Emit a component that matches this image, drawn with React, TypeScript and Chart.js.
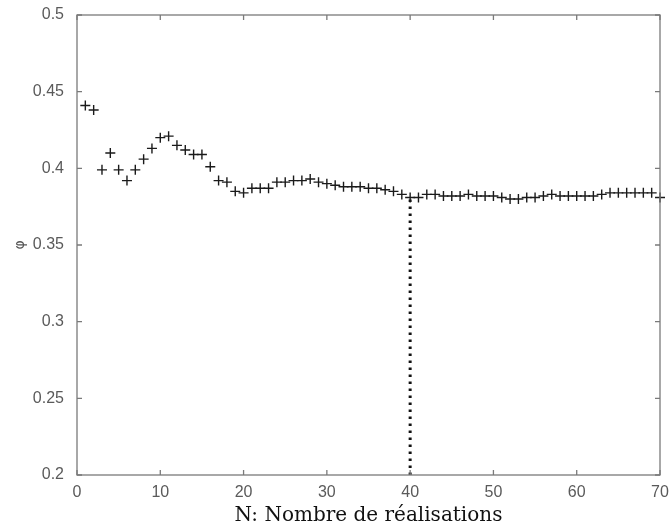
import React, { useEffect, useRef } from "react";
import { Chart, registerables } from "chart.js";

Chart.register(...registerables);

const realisations: number[] = Array.from({ length: 70 }, (_, i) => i + 1);
const phiValues: number[] = [
  0.441, 0.438, 0.399, 0.410, 0.399, 0.392, 0.399, 0.406, 0.413, 0.420,
  0.421, 0.415, 0.412, 0.409, 0.409, 0.401, 0.392, 0.391, 0.385, 0.384,
  0.387, 0.387, 0.387, 0.391, 0.391, 0.392, 0.392, 0.393, 0.391, 0.390,
  0.389, 0.388, 0.388, 0.388, 0.387, 0.387, 0.386, 0.385, 0.383, 0.381,
  0.381, 0.383, 0.383, 0.382, 0.382, 0.382, 0.383, 0.382, 0.382, 0.382,
  0.381, 0.380, 0.380, 0.381, 0.381, 0.382, 0.383, 0.382, 0.382, 0.382,
  0.382, 0.382, 0.383, 0.384, 0.384, 0.384, 0.384, 0.384, 0.384, 0.381,
];
const markedN = 40;
const xTicks: number[] = [0, 10, 20, 30, 40, 50, 60, 70];
const yTicks: number[] = [0.2, 0.25, 0.3, 0.35, 0.4, 0.45, 0.5];
const xLabel = "N: Nombre de réalisations";
const yLabel = "φ";

const boxPlugin = {
  id: "matlabBox",
  afterDatasetsDraw(chart: any) {
    const { ctx, chartArea, scales } = chart;
    const { left, right, top, bottom } = chartArea;
    ctx.save();
    ctx.strokeStyle = "#7a7a7a";
    ctx.lineWidth = 1.3;
    ctx.strokeRect(left, top, right - left, bottom - top);
    const tl = 5;
    ctx.beginPath();
    xTicks.forEach((v) => {
      const px = scales.x.getPixelForValue(v);
      ctx.moveTo(px, bottom);
      ctx.lineTo(px, bottom - tl);
      ctx.moveTo(px, top);
      ctx.lineTo(px, top + tl);
    });
    yTicks.forEach((v) => {
      const py = scales.y.getPixelForValue(v);
      ctx.moveTo(left, py);
      ctx.lineTo(left + tl, py);
      ctx.moveTo(right, py);
      ctx.lineTo(right - tl, py);
    });
    ctx.stroke();
    ctx.restore();
  },
};

export default function App() {
  const ref = useRef<HTMLCanvasElement | null>(null);
  useEffect(() => {
    if (!ref.current) return;
    const points = realisations.map((n, i) => ({ x: n, y: phiValues[i] }));
    const markIdx = realisations.indexOf(markedN);
    const chart = new Chart(ref.current, {
      type: "scatter",
      data: {
        datasets: [
          {
            data: points,
            pointStyle: "cross",
            pointRadius: 5,
            pointBorderWidth: 1.4,
            borderColor: "#1a1a1a",
            backgroundColor: "#1a1a1a",
            showLine: false,
            clip: false as any,
          },
          {
            data: [
              { x: markedN, y: 0.2 },
              { x: markedN, y: phiValues[markIdx] },
            ],
            showLine: true,
            borderColor: "#111",
            borderWidth: 3,
            borderDash: [2.5, 4.5],
            pointRadius: 0,
          },
        ],
      },
      options: {
        responsive: false,
        animation: false,
        events: [],
        layout: { padding: { top: 15, right: 12, left: 0, bottom: 0 } },
        plugins: { legend: { display: false }, tooltip: { enabled: false } },
        scales: {
          x: {
            type: "linear",
            min: 0,
            max: 70,
            afterBuildTicks: (s: any) => {
              s.ticks = xTicks.map((v) => ({ value: v }));
            },
            afterFit: (s: any) => {
              s.height = 54;
            },
            grid: { display: false },
            border: { display: false },
            ticks: {
              color: "#5a5a5a",
              font: { family: "Liberation Sans", size: 16 },
              padding: 0,
              maxRotation: 0,
              callback: (v: any) => String(v),
            },
            title: {
              display: true,
              text: xLabel,
              color: "#111",
              font: { family: "DejaVu Serif", size: 20 },
              padding: { top: 0, bottom: 1 },
            },
          },
          y: {
            type: "linear",
            min: 0.2,
            max: 0.5,
            afterBuildTicks: (s: any) => {
              s.ticks = yTicks.map((v) => ({ value: v }));
            },
            afterFit: (s: any) => {
              s.width = 77;
            },
            grid: { display: false },
            border: { display: false },
            ticks: {
              color: "#5a5a5a",
              font: { family: "Liberation Sans", size: 16 },
              padding: 5,
              callback: (v: any) => String(Number(Number(v).toFixed(2))),
            },
            title: {
              display: true,
              text: yLabel,
              color: "#555",
              font: { family: "DejaVu Sans", size: 14 },
              padding: { top: 12, bottom: 0 },
            },
          },
        },
      },
      plugins: [boxPlugin],
    });
    return () => chart.destroy();
  }, []);
  return (
    <div style={{ position: "fixed", left: 0, top: 0, width: 672, height: 529, background: "#fff" }}>
      <canvas ref={ref} width={672} height={529} />
    </div>
  );
}
